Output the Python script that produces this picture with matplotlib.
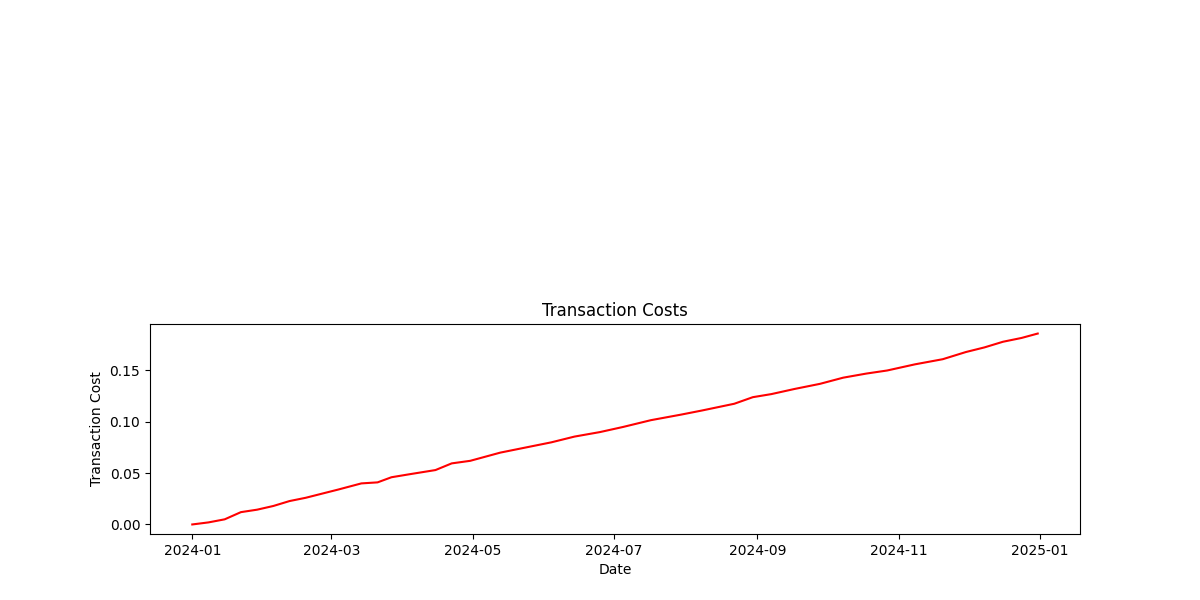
import matplotlib
matplotlib.use("Agg")
import matplotlib.pyplot as plt
import pandas as pd

dates = ["2024-01-01", "2024-01-08", "2024-01-15", "2024-01-22", "2024-01-29",
         "2024-02-05", "2024-02-12", "2024-02-19", "2024-02-26", "2024-03-04",
         "2024-03-14", "2024-03-21", "2024-03-27", "2024-04-04", "2024-04-15",
         "2024-04-22", "2024-04-30", "2024-05-13", "2024-05-24", "2024-06-04",
         "2024-06-14", "2024-06-25", "2024-07-05", "2024-07-17", "2024-07-30",
         "2024-08-08", "2024-08-22", "2024-08-30", "2024-09-07", "2024-09-17",
         "2024-09-28", "2024-10-08", "2024-10-18", "2024-10-27", "2024-11-08",
         "2024-11-20", "2024-11-30", "2024-12-08", "2024-12-16", "2024-12-24",
         "2024-12-31"]
costs = [0.000, 0.002, 0.005, 0.012, 0.0144,
         0.018, 0.0228, 0.026, 0.030, 0.034,
         0.040, 0.041, 0.046, 0.049, 0.053,
         0.0595, 0.062, 0.070, 0.075, 0.080,
         0.0856, 0.090, 0.095, 0.1016, 0.107,
         0.111, 0.1176, 0.124, 0.127, 0.132,
         0.137, 0.143, 0.147, 0.150, 0.156,
         0.161, 0.168, 0.1725, 0.178, 0.1817,
         0.186]

x = pd.to_datetime(dates)

fig, (ax_top, ax) = plt.subplots(2, 1, figsize=(12, 6), dpi=100)
ax_top.axis("off")
ax.plot(x, costs, color="red")
ax.set_title("Transaction Costs")
ax.set_xlabel("Date")
ax.set_ylabel("Transaction Cost")
fig.savefig("out.png")
